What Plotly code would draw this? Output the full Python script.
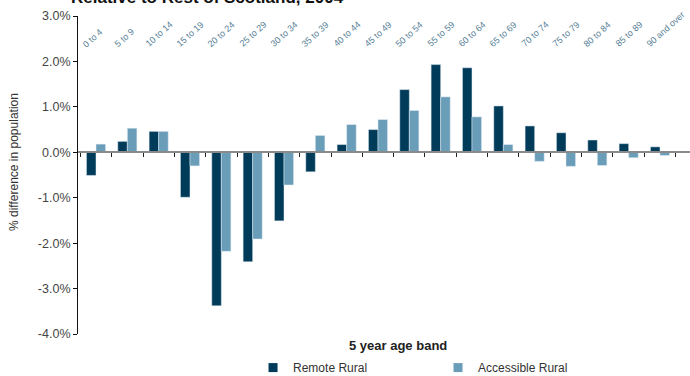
import plotly.graph_objects as go

categories = ["0 to 4", "5 to 9", "10 to 14", "15 to 19", "20 to 24", "25 to 29", "30 to 34",
              "35 to 39", "40 to 44", "45 to 49", "50 to 54", "55 to 59", "60 to 64", "65 to 69",
              "70 to 74", "75 to 79", "80 to 84", "85 to 89", "90 and over"]
remote_rural = [-0.51, 0.24, 0.46, -0.99, -3.38, -2.41, -1.51, -0.43, 0.17, 0.50, 1.38, 1.93,
                1.86, 1.02, 0.58, 0.43, 0.27, 0.19, 0.12]
accessible_rural = [0.18, 0.53, 0.46, -0.30, -2.18, -1.91, -0.72, 0.37, 0.61, 0.72, 0.92, 1.22,
                    0.78, 0.17, -0.20, -0.31, -0.29, -0.12, -0.07]
y_tick_vals = [-4, -3, -2, -1, 0, 1, 2, 3]
y_tick_text = ["-4.0%", "-3.0%", "-2.0%", "-1.0%", "0.0%", "1.0%", "2.0%", "3.0%"]

DARK = "#003c5a"
LIGHT = "#6a9db8"
FONT = "Liberation Sans, Arial, sans-serif"

fig = go.Figure()
fig.add_trace(go.Bar(x=categories, y=remote_rural, name="Remote Rural",
                     marker_color=DARK, showlegend=False))
fig.add_trace(go.Bar(x=categories, y=accessible_rural, name="Accessible Rural",
                     marker_color=LIGHT, showlegend=False))
# legend-only entries (small square symbols)
for name, col in [("Remote Rural", DARK), ("Accessible Rural", LIGHT)]:
    fig.add_trace(go.Scatter(x=[None], y=[None], mode="markers", name=name,
                             marker=dict(symbol="square", size=9, color=col)))

for c in categories:
    fig.add_annotation(x=c, y=2.21, xref="x", yref="y", text=c, showarrow=False,
                       textangle=-42, xanchor="left", yanchor="bottom", xshift=-18,
                       font=dict(family=FONT, size=9, color="#587f97"))

fig.add_annotation(text="<b>Relative to Rest of Scotland, 2004</b>", xref="paper", yref="paper",
                   x=0.2124, y=1.022, xanchor="center", yanchor="bottom", showarrow=False,
                   font=dict(family=FONT, size=17, color="#111111"))
fig.add_annotation(text="<b>5 year age band</b>", xref="paper", yref="paper",
                   x=0.5229, y=-0.0377, xanchor="center", yanchor="middle", showarrow=False,
                   font=dict(family=FONT, size=13, color="#222222"))
fig.add_annotation(text="% difference in population", xref="paper", yref="paper",
                   x=-0.1046, y=0.5409, xanchor="center", yanchor="middle", showarrow=False,
                   textangle=-90, font=dict(family=FONT, size=12, color="#333333"))

fig.update_layout(
    width=690, height=376,
    margin=dict(l=78, r=0, t=16, b=42, autoexpand=False),
    paper_bgcolor="white", plot_bgcolor="white",
    barmode="group", bargap=0.39, bargroupgap=0,
    font=dict(family=FONT, color="#333333"),
    legend=dict(orientation="h", x=0.286, y=-0.06, xanchor="left", yanchor="top",
                entrywidth=140, entrywidthmode="pixels",
                font=dict(family=FONT, size=12, color="#333333"), bgcolor="rgba(0,0,0,0)"),
    xaxis=dict(anchor="free", position=4 / 7, showline=True, linecolor="#8a8a8a", linewidth=2,
               ticks="outside", tickson="boundaries", ticklen=4, tickcolor="#222222",
               showticklabels=False, showgrid=False, zeroline=False),
    yaxis=dict(range=[-4, 3], tickvals=y_tick_vals, ticktext=y_tick_text,
               showline=True, linecolor="#111111", linewidth=1,
               ticks="outside", ticklen=4, tickcolor="#111111",
               showgrid=False, zeroline=False,
               tickfont=dict(family=FONT, size=12.5, color="#444444")),
)

fig.write_html("out.html")
